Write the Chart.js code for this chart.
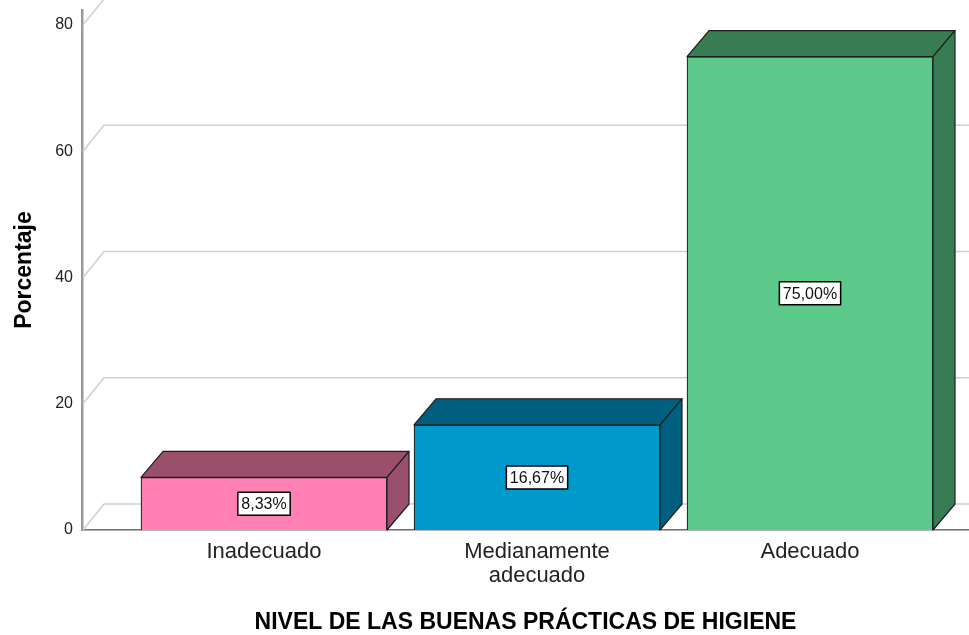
<!DOCTYPE html>
<html>
<head>
<meta charset="utf-8">
<script src="https://cdn.jsdelivr.net/npm/chart.js@4/dist/chart.umd.min.js"></script>
<style>
  html, body { margin: 0; padding: 0; background: #ffffff; }
  #wrap { width: 969px; height: 635px; position: relative; }
</style>
</head>
<body>
<div id="wrap"><canvas id="c" width="969" height="635"></canvas></div>
<script>
// ---- data ----
const categories = ['Inadecuado', ['Medianamente', 'adecuado'], 'Adecuado'];
const percentages = [8.33, 16.67, 75.00];
const valueLabels = ['8,33%', '16,67%', '75,00%'];
const yTicks = [0, 20, 40, 60, 80];
const xTitle = 'NIVEL DE LAS BUENAS PRÁCTICAS DE HIGIENE';
const yTitle = 'Porcentaje';

// ---- style ----
const frontColors = ['#fe80b4', '#0099cb', '#5cc98b'];
const darkColors  = ['#9a506b', '#005e7e', '#377c53'];
const DX = 22, DY = 26;
const FONT = '"Liberation Sans", Arial, sans-serif';

const threeD = {
  id: 'threeD',
  beforeDatasetsDraw(chart) {
    const ctx = chart.ctx;
    const y = chart.scales.y;
    const area = chart.chartArea;
    ctx.save();
    ctx.lineWidth = 1.5;
    ctx.strokeStyle = '#cfcfcf';
    yTicks.forEach(v => {
      const py = y.getPixelForValue(v);
      ctx.beginPath();
      ctx.moveTo(area.left + 1, py);
      ctx.lineTo(area.left + DX, py - DY);
      ctx.lineTo(chart.width, py - DY);
      ctx.stroke();
    });
    ctx.restore();
  },
  afterDatasetsDraw(chart) {
    const ctx = chart.ctx;
    const meta = chart.getDatasetMeta(0);
    ctx.save();
    ctx.lineJoin = 'round';
    meta.data.forEach((bar, i) => {
      const p = bar.getProps(['x', 'y', 'base', 'width'], true);
      const x1 = p.x - p.width / 2, x2 = p.x + p.width / 2;
      const top = p.y, base = p.base;
      ctx.fillStyle = darkColors[i];
      ctx.strokeStyle = '#1e1e1e';
      ctx.lineWidth = 1.2;
      // top face
      ctx.beginPath();
      ctx.moveTo(x1, top);
      ctx.lineTo(x1 + DX, top - DY);
      ctx.lineTo(x2 + DX, top - DY);
      ctx.lineTo(x2, top);
      ctx.closePath();
      ctx.fill(); ctx.stroke();
      // side face
      ctx.beginPath();
      ctx.moveTo(x2, top);
      ctx.lineTo(x2 + DX, top - DY);
      ctx.lineTo(x2 + DX, base - DY);
      ctx.lineTo(x2, base);
      ctx.closePath();
      ctx.fill(); ctx.stroke();
      // value label
      const cy = (top + base) / 2;
      ctx.font = '16px ' + FONT;
      const tw = ctx.measureText(valueLabels[i]).width;
      const bw = tw + 7, bh = 23;
      ctx.fillStyle = '#ffffff';
      ctx.fillRect(p.x - bw / 2, cy - bh / 2, bw, bh);
      ctx.lineWidth = 1.5;
      ctx.strokeStyle = '#000000';
      ctx.strokeRect(p.x - bw / 2, cy - bh / 2, bw, bh);
      ctx.fillStyle = '#111111';
      ctx.textAlign = 'center';
      ctx.textBaseline = 'middle';
      ctx.fillText(valueLabels[i], p.x, cy + 1);
    });
    ctx.restore();
  }
};

const xMin = (82 - 264) / 273;
const xMax = (969 - 264) / 273;

new Chart(document.getElementById('c'), {
  type: 'bar',
  data: {
    datasets: [{
      data: percentages.map((v, i) => ({ x: i, y: v })),
      backgroundColor: frontColors,
      borderColor: '#1e1e1e',
      borderWidth: 1.2,
      barThickness: 246
    }]
  },
  options: {
    responsive: false,
    animation: false,
    devicePixelRatio: 1,
    layout: { padding: { top: 10, left: 0, right: 0, bottom: 0 } },
    plugins: { legend: { display: false }, tooltip: { enabled: false } },
    scales: {
      x: {
        type: 'linear',
        offset: false,
        min: xMin,
        max: xMax,
        afterBuildTicks: s => { s.ticks = categories.map((c, i) => ({ value: i })); },
        afterFit: s => { s.height = 105; },
        grid: { display: false, drawTicks: false, offset: false },
        border: { display: true, color: '#6e6e6e', width: 1.5 },
        ticks: {
          callback: (v) => categories[v],
          padding: 10,
          color: '#222222',
          maxRotation: 0,
          autoSkip: false,
          font: { family: FONT, size: 22, lineHeight: '24px' }
        },
        title: {
          display: true,
          text: xTitle,
          color: '#000000',
          padding: { top: 0, bottom: 2 },
          font: { family: FONT, size: 23, weight: 'bold', lineHeight: 0.9 }
        }
      },
      y: {
        min: 0,
        max: 520 / 6.3125,
        afterBuildTicks: s => { s.ticks = yTicks.map(v => ({ value: v })); },
        afterFit: s => { s.width = 82; },
        grid: { display: false, drawTicks: true, tickLength: 9 },
        border: { display: true, color: '#9a9a9a', width: 2.5 },
        ticks: {
          padding: 0,
          color: '#222222',
          font: { family: FONT, size: 16 }
        },
        title: {
          display: true,
          text: yTitle,
          color: '#000000',
          padding: { top: 11, bottom: 0 },
          font: { family: FONT, size: 23, weight: 'bold', lineHeight: 1.2 }
        }
      }
    }
  },
  plugins: [threeD]
});
</script>
</body>
</html>
